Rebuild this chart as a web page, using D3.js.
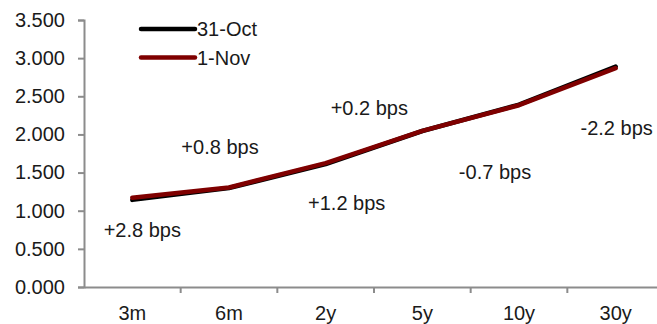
<!DOCTYPE html>
<html>
<head>
<meta charset="utf-8">
<script src="https://cdn.jsdelivr.net/npm/d3@7"></script>
<style>
  html, body { margin: 0; padding: 0; background: #fff; }
  svg { display: block; font-family: "Liberation Sans", Arial, sans-serif; }
</style>
</head>
<body>
<svg id="chart" width="657" height="324"></svg>
<script>
// Yield curve tenors and the two closing dates
const tenors = ["3m", "6m", "2y", "5y", "10y", "30y"];
const oct31 = [1.142, 1.297, 1.612, 2.045, 2.390, 2.890];
const nov1  = [1.170, 1.305, 1.624, 2.047, 2.383, 2.868];
const changeLabels = ["+2.8 bps", "+0.8 bps", "+1.2 bps", "+0.2 bps", "-0.7 bps", "-2.2 bps"];
const yTicks = [0, 0.5, 1, 1.5, 2, 2.5, 3, 3.5];

const seriesList = [
  { name: "31-Oct", values: oct31, color: "#000000" },
  { name: "1-Nov",  values: nov1,  color: "#7f0000" }
];

// Label offsets around each tenor (value-space baseline and pixel dx)
const labelPlacement = [
  { dx: 10,  value: 0.66 },
  { dx: -9,  value: 1.75 },
  { dx: 21,  value: 1.01 },
  { dx: -53, value: 2.25 },
  { dx: -24, value: 1.41 },
  { dx: 1,   value: 1.99 }
];

const svg = d3.select("#chart");
const plotLeft = 84, plotRight = 664, plotTop = 20, plotBottom = 287;

const x = d3.scaleBand().domain(tenors).range([plotLeft, plotRight]);
const y = d3.scaleLinear().domain([0, 3.5]).range([plotBottom, plotTop]);

const axisColor = "#8c8c8c";
const fontSize = 20;

// Y axis
const yAxis = svg.append("g")
  .attr("transform", `translate(${plotLeft},0)`)
  .call(d3.axisLeft(y).tickValues(yTicks).tickFormat(d3.format(".3f")).tickSize(6).tickPadding(13));
// X axis
const xAxis = svg.append("g")
  .attr("transform", `translate(0,${plotBottom})`)
  .call(d3.axisBottom(x).tickSize(0).tickPadding(19));

[yAxis, xAxis].forEach(g => {
  g.select(".domain").attr("stroke", axisColor).attr("stroke-width", 2);
  g.selectAll(".tick line").attr("stroke", axisColor).attr("stroke-width", 2);
  g.selectAll("text").attr("fill", "#1a1a1a").style("font-size", fontSize + "px")
    .style("font-family", '"Liberation Sans", Arial, sans-serif');
});

// Category boundary tick marks on the x axis
svg.append("g").selectAll("line")
  .data(tenors.slice(1))
  .join("line")
  .attr("x1", d => x(d)).attr("x2", d => x(d))
  .attr("y1", plotBottom).attr("y2", plotBottom + 6)
  .attr("stroke", axisColor).attr("stroke-width", 2);

// Curves
const line = d3.line()
  .x((d, i) => x(tenors[i]) + x.bandwidth() / 2)
  .y(d => y(d));

svg.append("g").selectAll("path")
  .data(seriesList)
  .join("path")
  .attr("d", s => line(s.values))
  .attr("fill", "none")
  .attr("stroke", s => s.color)
  .attr("stroke-width", 4.5)
  .attr("stroke-linecap", "round")
  .attr("stroke-linejoin", "round");

// Legend
const legend = svg.append("g").selectAll("g")
  .data(seriesList)
  .join("g")
  .attr("transform", (d, i) => `translate(141,${29 + i * 28.5})`);
legend.append("line")
  .attr("x1", 0).attr("x2", 54)
  .attr("stroke", d => d.color)
  .attr("stroke-width", 4.5)
  .attr("stroke-linecap", "round");
legend.append("text")
  .attr("x", 56).attr("y", 7)
  .attr("fill", "#1a1a1a")
  .style("font-size", fontSize + "px")
  .text(d => d.name);

// Change annotations
svg.append("g").selectAll("text")
  .data(changeLabels)
  .join("text")
  .attr("x", (d, i) => x(tenors[i]) + x.bandwidth() / 2 + labelPlacement[i].dx)
  .attr("y", (d, i) => y(labelPlacement[i].value))
  .attr("text-anchor", "middle")
  .attr("fill", "#1a1a1a")
  .style("font-size", fontSize + "px")
  .text(d => d);
</script>
</body>
</html>
